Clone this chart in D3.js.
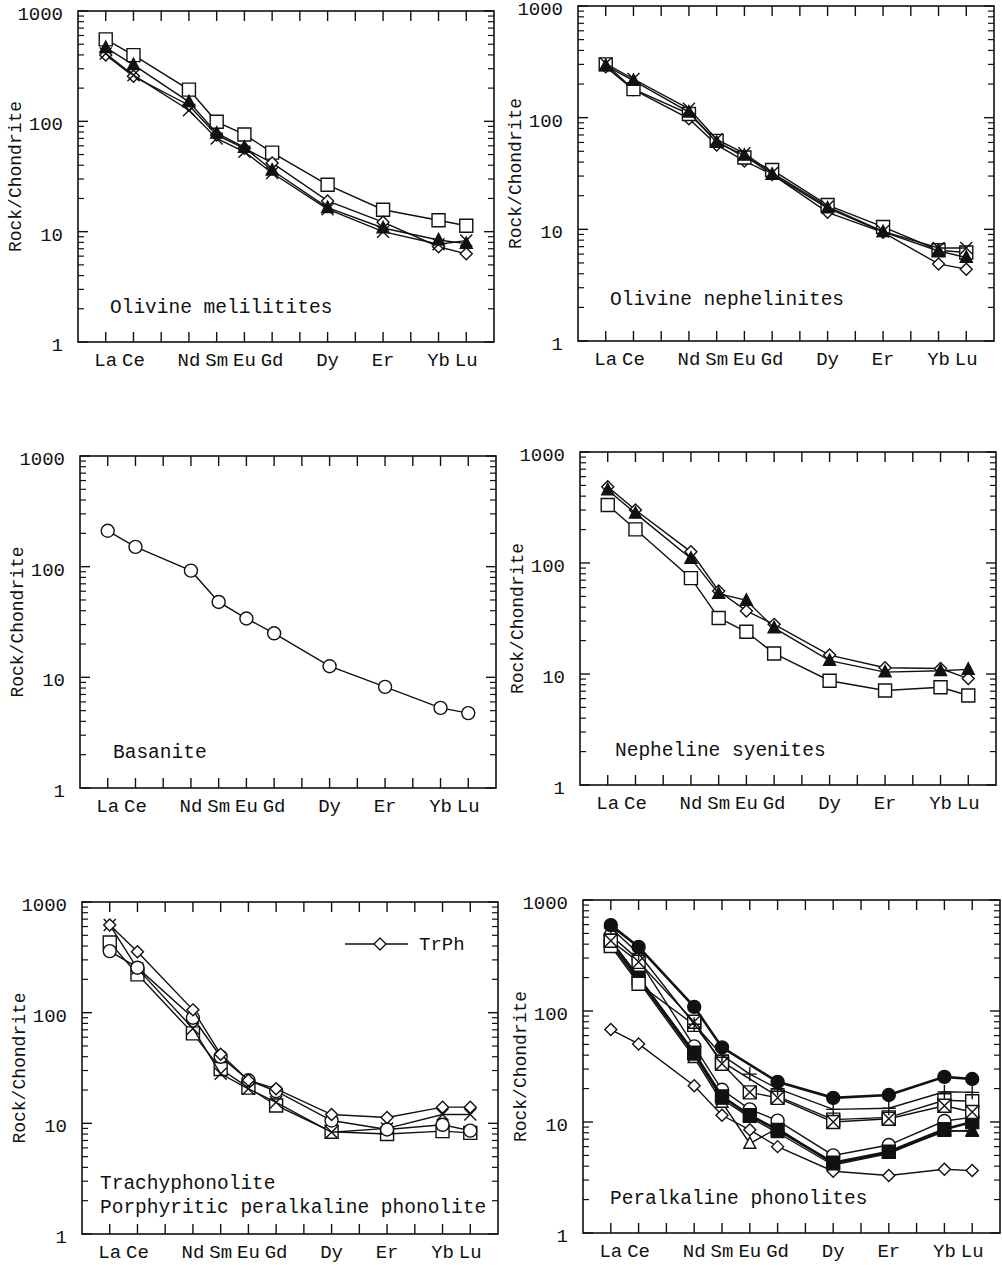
<!DOCTYPE html>
<html>
<head>
<meta charset="utf-8">
<script src="https://cdn.jsdelivr.net/npm/d3@7"></script>
<style>
  body { margin: 0; background: #fff; }
  svg text { font-family: "Liberation Mono", "DejaVu Sans Mono", monospace; fill: #111; }
</style>
</head>
<body>
<svg id="chart"></svg>
<script>
// page size
const width = 1002, height = 1265;

// x positions: the full REE row, only some are labelled / plotted
const positions = ["La","Ce","Pr","Nd","Sm","Eu","Gd","Tb","Dy","Ho","Er","Tm","Yb","Lu"];
const elements = ["La","Ce","Nd","Sm","Eu","Gd","Dy","Er","Yb","Lu"];
const yTickValues = [1, 10, 100, 1000];

// Olivine melilitites
const melSquare   = [553, 398, 194, 99, 76, 52, 26.6, 15.8, 12.7, 11.3];
const melDiamond  = [400, 256, 140, 75, 57, 42, 19, 12.2, 7.3, 6.3];
const melTriangle = [465, 325, 150, 78, 58, 36, 16.5, 10.8, 8.4, 7.8];
const melCross    = [412, 262, 126, 70, 53, 34, 16, 10, 7.7, 8.3];

// Olivine nephelinites
const nephSquare   = [300, 180, 108, 62, 44, 34, 16.5, 10.5, 6.5, 6.2];
const nephDiamond  = [285, 178, 98, 57, 41, 31, 14.2, 9.4, 4.9, 4.4];
const nephTriangle = [292, 215, 112, 60, 46, 31, 15.5, 9.5, 6.4, 5.6];
const nephCross    = [305, 222, 120, 64, 48, 32, 16, 9.6, 6.8, 6.8];

// Basanite
const basanite = [211, 151, 92, 48, 34, 25, 12.6, 8.2, 5.3, 4.75];

// Nepheline syenites
const syenDiamond  = [486, 300, 126, 56, 37, 28, 14.8, 11.4, 11.2, 9.1];
const syenTriangle = [455, 280, 110, 53, 46, 26, 13.2, 10.4, 10.7, 11];
const syenSquare   = [333, 201, 73, 32, 24, 15.3, 8.7, 7.1, 7.6, 6.4];

// Trachyphonolite / porphyritic peralkaline phonolite
const trphDiamond = [620, 355, 106, 42, 24.5, 20.5, 12, 11.3, 14, 14];
const pppCross    = [620, 250, 72, 28, 20.5, 15.5, 8.3, 9, 12, 12];
const pppSquare   = [430, 222, 65, 31, 21, 14.5, 8.4, 8, 8.5, 8.2];
const pppCircle   = [360, 255, 90, 40, 24.5, 19.5, 10.6, 8.8, 9.7, 8.6];

// Peralkaline phonolites (null = no value)
const palFilledCircle  = [594, 378, 109, 47, null, 23, 16.5, 17.5, 25.5, 24.4];
const palPlus          = [560, 330, 76, 40, 27, 20, 13, 13.3, 18.7, 18.5];
const palSquareX       = [430, 277, 80, 33.5, 18.5, 16.5, 10, 10.7, 14, 12.3];
const palSquare        = [385, 176, 75, 35, null, 17, 10.5, 11, 15.7, 15.4];
const palCircle        = [480, 290, 48, 19.5, 13, 10.3, 5, 6.2, 10.2, 11];
const palFilledSquare  = [430, 200, 42, 17, 11.5, 8.5, 4.3, 5.4, 8.6, 10];
const palFilledTri     = [420, 192, 40, 16, 11, 8, 4.1, 5.2, 8.4, 8.2];
const palTriangle      = [400, 185, 38, 15, 6.4, 8.8, 4.2, 5.3, 8.2, 8.4];
const palDiamond       = [68, 50.5, 21.2, 11.5, 8.5, 6, 3.6, 3.3, 3.75, 3.65];

const svg = d3.select("#chart")
    .attr("width", width)
    .attr("height", height);

// marker outlines
function symbolPath(type, r) {
    const sq = `M${-r},${-r}H${r}V${r}H${-r}Z`;
    switch (type) {
        case "square": return sq;
        case "diamond": return `M0,${-r}L${r},0L0,${r}L${-r},0Z`;
        case "triangle": return `M0,${-r * 1.1}L${r},${r * 0.8}L${-r},${r * 0.8}Z`;
        case "circle": return `M${r},0A${r},${r} 0 1,1 ${-r},0A${r},${r} 0 1,1 ${r},0Z`;
        case "cross": return `M${-r},${-r}L${r},${r}M${r},${-r}L${-r},${r}`;
        case "plus": return `M${-r},0H${r}M0,${-r}V${r}`;
        case "squareX": return sq + `M${-r},${-r}L${r},${r}M${r},${-r}L${-r},${r}`;
    }
}
const symbolSize = { square: 6.5, diamond: 6, triangle: 6, circle: 6.5, cross: 6, plus: 7, squareX: 6.5 };

function drawPanel(p) {
    const g = svg.append("g").attr("transform", `translate(${p.left},${p.top})`);
    const x = d3.scaleLinear().domain([-1, positions.length]).range([0, p.w]);
    const y = d3.scaleLog().domain([1, 1000]).range([p.h, 0]);

    // frame
    g.append("rect").attr("width", p.w).attr("height", p.h)
        .attr("fill", "none").attr("stroke", "#111").attr("stroke-width", 1.6);

    // x ticks top and bottom, pointing inward
    positions.forEach(function(el, i) {
        g.append("line").attr("x1", x(i)).attr("x2", x(i)).attr("y1", p.h).attr("y2", p.h - 10)
            .attr("stroke", "#111").attr("stroke-width", 1.4);
        g.append("line").attr("x1", x(i)).attr("x2", x(i)).attr("y1", 0).attr("y2", 10)
            .attr("stroke", "#111").attr("stroke-width", 1.4);
    });
    elements.forEach(function(el) {
        g.append("text")
            .attr("x", x(positions.indexOf(el)))
            .attr("y", p.h + 24)
            .attr("text-anchor", "middle")
            .attr("font-size", "19px")
            .text(el);
    });

    // y ticks, major and minor, on both sides
    const minor = [];
    [1, 10, 100].forEach(function(d) { for (let k = 2; k <= 9; k++) minor.push(k * d); });
    minor.forEach(function(v) {
        g.append("line").attr("x1", 0).attr("x2", 6).attr("y1", y(v)).attr("y2", y(v))
            .attr("stroke", "#111").attr("stroke-width", 1.2);
        g.append("line").attr("x1", p.w).attr("x2", p.w - 6).attr("y1", y(v)).attr("y2", y(v))
            .attr("stroke", "#111").attr("stroke-width", 1.2);
    });
    yTickValues.forEach(function(v) {
        g.append("line").attr("x1", 0).attr("x2", 10).attr("y1", y(v)).attr("y2", y(v))
            .attr("stroke", "#111").attr("stroke-width", 1.4);
        g.append("line").attr("x1", p.w).attr("x2", p.w - 10).attr("y1", y(v)).attr("y2", y(v))
            .attr("stroke", "#111").attr("stroke-width", 1.4);
        g.append("text")
            .attr("x", -15)
            .attr("y", y(v) + 9)
            .attr("text-anchor", "end")
            .attr("font-size", "19px")
            .text(v);
    });

    // axis title
    g.append("text")
        .attr("transform", `translate(-62,${p.h / 2}) rotate(-90)`)
        .attr("text-anchor", "middle")
        .attr("dominant-baseline", "middle")
        .attr("font-size", "18px")
        .text("Rock/Chondrite");

    // panel name
    p.labels.forEach(function(t, i) {
        g.append("text")
            .attr("x", p.labelX)
            .attr("y", p.labelY + i * 24)
            .attr("font-size", "19.5px")
            .text(t);
    });

    const line = d3.line()
        .x(function(d) { return x(positions.indexOf(d.el)); })
        .y(function(d) { return y(d.v); });

    p.series.forEach(function(s) {
        const pts = elements.map(function(el, i) { return { el: el, v: s.values[i] }; })
            .filter(function(d) { return d.v != null; });
        g.append("path")
            .attr("d", line(pts))
            .attr("fill", "none")
            .attr("stroke", "#111")
            .attr("stroke-width", s.bold ? 2.6 : 1.4);
        g.selectAll(null)
            .data(pts)
            .enter().append("path")
            .attr("transform", function(d) { return `translate(${x(positions.indexOf(d.el))},${y(d.v)})`; })
            .attr("d", symbolPath(s.symbol, symbolSize[s.symbol]))
            .attr("fill", s.filled ? "#111" : "#fff")
            .attr("stroke", "#111")
            .attr("stroke-width", 1.4);
    });

    return { g: g, x: x, y: y };
}

drawPanel({
    left: 78, top: 11, w: 416, h: 331,
    labels: ["Olivine melilitites"], labelX: 32, labelY: 302,
    series: [
        { values: melSquare, symbol: "square" },
        { values: melDiamond, symbol: "diamond" },
        { values: melCross, symbol: "cross" },
        { values: melTriangle, symbol: "triangle", filled: true }
    ]
});

drawPanel({
    left: 578, top: 6, w: 416, h: 335,
    labels: ["Olivine nephelinites"], labelX: 32, labelY: 299,
    series: [
        { values: nephDiamond, symbol: "diamond" },
        { values: nephSquare, symbol: "square" },
        { values: nephTriangle, symbol: "triangle", filled: true },
        { values: nephCross, symbol: "cross" }
    ]
});

drawPanel({
    left: 80, top: 456, w: 416, h: 332,
    labels: ["Basanite"], labelX: 33, labelY: 302,
    series: [
        { values: basanite, symbol: "circle" }
    ]
});

drawPanel({
    left: 580, top: 452, w: 416, h: 333,
    labels: ["Nepheline syenites"], labelX: 35, labelY: 304,
    series: [
        { values: syenSquare, symbol: "square" },
        { values: syenDiamond, symbol: "diamond" },
        { values: syenTriangle, symbol: "triangle", filled: true }
    ]
});

const p5 = drawPanel({
    left: 82, top: 902, w: 416, h: 332,
    labels: ["Trachyphonolite", "Porphyritic peralkaline phonolite"], labelX: 18, labelY: 287,
    series: [
        { values: pppSquare, symbol: "square" },
        { values: pppCross, symbol: "cross" },
        { values: pppCircle, symbol: "circle" },
        { values: trphDiamond, symbol: "diamond" }
    ]
});
// legend for TrPh
p5.g.append("line").attr("x1", 263).attr("x2", 326).attr("y1", 42).attr("y2", 42)
    .attr("stroke", "#111").attr("stroke-width", 1.4);
p5.g.append("path").attr("transform", "translate(298,42)")
    .attr("d", symbolPath("diamond", 6)).attr("fill", "#fff")
    .attr("stroke", "#111").attr("stroke-width", 1.4);
p5.g.append("text").attr("x", 337).attr("y", 48).attr("font-size", "19px").text("TrPh");

drawPanel({
    left: 583, top: 900, w: 417, h: 333,
    labels: ["Peralkaline phonolites"], labelX: 27, labelY: 304,
    series: [
        { values: palDiamond, symbol: "diamond" },
        { values: palTriangle, symbol: "triangle" },
        { values: palFilledTri, symbol: "triangle", filled: true },
        { values: palCircle, symbol: "circle" },
        { values: palFilledSquare, symbol: "square", filled: true, bold: true },
        { values: palSquare, symbol: "square" },
        { values: palSquareX, symbol: "squareX" },
        { values: palPlus, symbol: "plus" },
        { values: palFilledCircle, symbol: "circle", filled: true, bold: true }
    ]
});
</script>
</body>
</html>
